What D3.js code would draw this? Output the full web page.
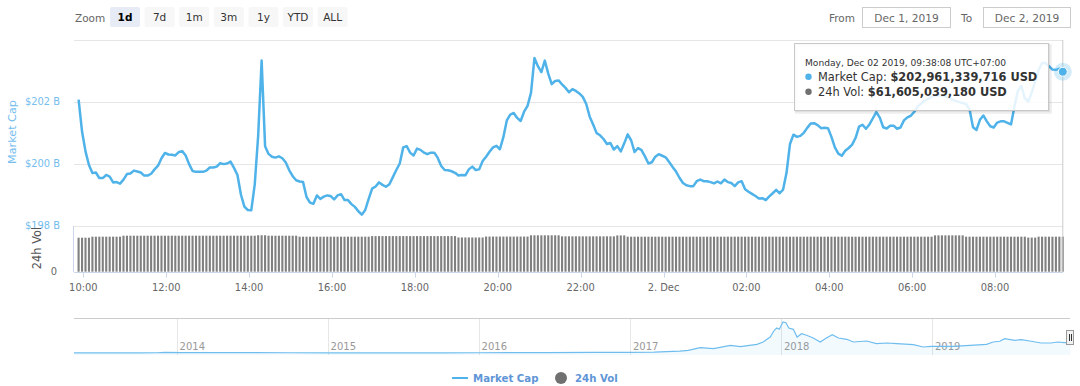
<!DOCTYPE html>
<html><head><meta charset="utf-8">
<script src="https://cdn.jsdelivr.net/npm/d3@7"></script>
<style>
html,body{margin:0;padding:0;background:#fff;}
svg{display:block;font-family:"DejaVu Sans",sans-serif;}
</style></head><body>
<svg id="chart" width="1080" height="386"></svg>
<script>
// ---------- DATA ----------
// Market cap (billions USD), one value every 5 minutes (UTC+07:00 wall time)
const capValues = [
202.06,201.03,200.39,199.95,199.69,199.71,199.53,199.53,199.63,199.58,
199.39,199.40,199.35,199.48,199.66,199.68,199.77,199.74,199.71,199.61,
199.61,199.67,199.81,199.93,200.17,200.34,200.29,200.28,200.26,200.37,
200.40,200.26,199.98,199.76,199.73,199.73,199.73,199.77,199.87,199.87,
199.90,200.01,199.98,200.00,200.06,199.86,199.63,199.00,198.61,198.50,
198.49,199.32,200.90,203.32,200.56,200.31,200.22,200.19,200.23,200.17,
200.03,199.78,199.59,199.46,199.42,199.40,198.92,198.74,198.70,198.97,
198.86,198.93,198.97,198.95,198.84,198.97,199.01,198.82,198.82,198.69,
198.60,198.46,198.35,198.50,198.86,199.19,199.26,199.39,199.31,199.25,
199.33,199.56,199.79,200.00,200.52,200.56,200.35,200.26,200.48,200.44,
200.35,200.30,200.35,200.35,200.18,199.92,199.79,199.78,199.75,199.70,
199.61,199.63,199.62,199.81,199.90,199.79,199.81,200.08,200.22,200.38,
200.52,200.57,200.46,200.85,201.39,201.58,201.63,201.47,201.37,201.67,
201.86,202.28,203.40,203.14,202.95,203.32,202.90,202.56,202.66,202.68,
202.55,202.44,202.30,202.40,202.34,202.26,202.15,201.92,201.51,201.26,
200.98,200.91,200.79,200.63,200.66,200.45,200.56,200.39,200.65,200.94,
200.75,200.37,200.50,200.43,200.23,200.00,200.04,200.22,200.30,200.25,
200.20,200.05,199.89,199.74,199.54,199.37,199.30,199.27,199.27,199.43,
199.48,199.43,199.43,199.40,199.36,199.42,199.36,199.48,199.40,199.37,
199.27,199.39,199.43,199.17,199.09,199.02,198.95,198.87,198.88,198.82,
198.94,199.04,199.15,199.04,199.16,199.70,200.63,200.93,200.86,200.89,
200.99,201.15,201.29,201.30,201.24,201.14,201.15,201.14,200.86,200.52,
200.32,200.25,200.41,200.50,200.61,200.83,201.19,201.25,201.12,201.26,
201.46,201.66,201.48,201.17,201.13,201.22,201.22,201.12,201.16,201.39,
201.49,201.54,201.67,201.84,201.94,202.02,202.08,202.15,202.19,202.19,
202.19,202.17,202.13,202.06,202.02,201.98,201.95,201.92,201.74,201.17,
201.08,201.41,201.55,201.36,201.20,201.16,201.32,201.36,201.36,201.31,
201.26,201.84,202.35,202.50,202.11,202.00,202.29,202.66,203.02,203.24,
203.24,203.14,203.03,203.02,203.06,202.96];

// 24h volume (billions USD), same timestamps
const volValues = [
59.8,59.8,59.8,59.8,61.6,61.6,61.6,61.6,61.6,61.6,
61.6,61.6,61.6,63.3,63.3,63.3,63.3,63.3,63.3,63.3,
63.3,63.3,63.3,63.3,63.3,63.3,63.3,63.3,63.3,63.3,
63.3,63.3,63.3,63.3,63.3,63.3,63.3,63.3,63.3,63.3,
63.3,63.3,63.3,63.3,63.3,63.3,63.3,63.3,63.3,63.3,
63.3,63.3,64.1,64.1,64.1,63.3,63.3,63.3,63.3,63.3,
63.3,63.3,63.3,63.3,61.6,61.6,61.6,61.6,61.6,61.6,
61.6,61.6,61.6,61.6,61.6,61.6,61.6,61.6,61.6,61.6,
61.6,61.6,61.6,61.6,61.6,62.6,62.6,62.6,62.6,62.6,
62.6,62.6,62.6,62.6,62.6,62.6,62.6,62.6,62.6,62.6,
62.6,62.6,62.6,62.6,62.6,62.6,62.6,62.6,62.6,62.6,
60.2,60.2,60.2,60.2,60.2,60.2,60.2,60.2,61.8,61.8,
61.8,61.8,61.8,61.8,61.8,61.8,61.8,61.8,61.8,61.8,
61.8,64.0,64.0,64.0,64.0,64.0,64.0,64.0,64.0,64.0,
62.2,62.2,62.2,62.2,62.2,62.2,62.2,62.2,62.2,62.2,
62.2,62.2,62.2,62.2,62.2,62.2,63.8,63.8,63.8,61.6,
61.6,61.6,61.6,61.6,61.6,61.6,61.6,61.6,61.6,61.6,
61.6,61.6,61.6,61.6,61.6,61.6,61.6,61.6,61.6,61.6,
61.6,61.6,61.6,61.6,61.6,61.6,61.6,61.6,61.6,61.6,
61.6,61.6,61.6,61.6,61.6,61.6,61.6,61.6,61.6,61.6,
61.6,61.6,61.6,61.6,61.6,61.6,61.6,61.6,61.6,61.6,
61.6,61.6,61.6,61.6,61.6,61.6,61.6,61.6,61.6,61.6,
61.6,61.6,61.6,61.6,61.6,61.6,61.6,61.6,61.6,61.6,
61.6,61.6,61.6,61.6,61.6,61.6,61.6,61.6,61.6,61.6,
61.6,61.6,61.6,61.6,61.6,61.6,61.6,61.6,63.9,63.9,
63.9,63.9,63.9,63.9,63.9,63.9,63.9,61.6,61.6,61.6,
61.6,61.6,61.6,61.6,61.6,61.6,61.6,61.6,61.6,61.6,
61.6,61.6,61.6,61.6,61.6,60.0,60.0,60.0,61.6,61.6,
61.6,61.6,61.6,61.6,61.6,61.61];

const startTime = Date.UTC(2019, 11, 1, 9, 53, 8); // first point, local wall time
const stepMinutes = 5;

const capTicks = [198, 200, 202];
const capGrid = [198, 200, 202, 204];
const zoomButtons = ["1d", "7d", "1m", "3m", "1y", "YTD", "ALL"];
const fromDate = "Dec 1, 2019";
const toDate = "Dec 2, 2019";

// Navigator: total market cap history (billions USD)
const navDates = ["2013-04-28","2013-07-01","2013-10-01","2013-11-15","2013-12-04","2014-01-15","2014-03-01","2014-06-01","2014-10-01","2015-01-15","2015-06-01","2015-10-01","2016-01-01","2016-06-15","2016-10-01","2017-01-01","2017-03-01","2017-05-01","2017-05-22","2017-06-20","2017-07-22","2017-09-01","2017-09-25","2017-11-04","2017-11-19","2017-12-06","2017-12-16","2017-12-22","2017-12-28","2018-01-06","2018-01-13","2018-01-20","2018-01-31","2018-02-09","2018-02-20","2018-03-04","2018-03-20","2018-04-06","2018-04-18","2018-05-05","2018-05-20","2018-06-09","2018-06-25","2018-07-27","2018-08-20","2018-09-14","2018-10-08","2018-11-17","2018-12-11","2018-12-31","2019-02-22","2019-04-03","2019-05-13","2019-05-29","2019-06-14","2019-06-26","2019-07-20","2019-08-05","2019-08-29","2019-09-22","2019-10-16","2019-11-01","2019-11-17","2019-12-02"];
const navValues = [1.5,1.2,1.6,6,15,11,9,8,6,4,3.5,4,7,12,14,18,24,50,70,139,113,202,165,228,288,419,595,655,621,812,794,655,621,419,506,464,393,288,375,479,393,359,288,314,244,262,244,217,157,176,176,202,228,288,307,375,333,348,307,262,262,288,270,275];
const navYears = [2014, 2015, 2016, 2017, 2018, 2019];

const tooltipHeader = "Monday, Dec 02 2019, 09:38:08 UTC+07:00";
const tooltipCap = "$202,961,339,716 USD";
const tooltipVol = "$61,605,039,180 USD";

// ---------- STYLE ----------
const BLUE = "#4fb3ea";
const LABEL_BLUE = "#74bdee";
const GRID = "#e6e6e6";
const AXIS = "#ccd6eb";

const svg = d3.select("#chart");
const times = capValues.map((d, i) => new Date(startTime + i * stepMinutes * 60000));

const x = d3.scaleUtc().domain([times[0], times[times.length - 1]]).range([78.6, 1062.8]);
const y = d3.scaleLinear().domain([198, 204]).range([225.5, 39.5]);
const yVol = d3.scaleLinear().domain([0, 78.6]).range([271.7, 227]);

// ---------- Range selector ----------
const topG = svg.append("g");
topG.append("text").attr("x", 75).attr("y", 21.5).attr("font-size", 10.5).attr("fill", "#666").text("Zoom");
const btn = topG.selectAll("g.btn").data(zoomButtons).join("g")
  .attr("transform", (d, i) => `translate(${110 + i * 34.6},7)`);
btn.append("rect").attr("width", 30).attr("height", 20).attr("rx", 2)
  .attr("fill", (d, i) => i === 0 ? "#e6ebf5" : "#f7f7f7");
btn.append("text").attr("x", 15).attr("y", 14.3).attr("text-anchor", "middle")
  .attr("font-size", 10.5).attr("font-weight", (d, i) => i === 0 ? "bold" : "normal")
  .attr("fill", (d, i) => i === 0 ? "#000" : "#333").text(d => d);

topG.append("text").attr("x", 829).attr("y", 21.5).attr("font-size", 10.5).attr("fill", "#666").text("From");
topG.append("rect").attr("x", 862.5).attr("y", 7.5).attr("width", 88).attr("height", 20).attr("fill", "#fff").attr("stroke", "#ccc");
topG.append("text").attr("x", 906.5).attr("y", 21.5).attr("text-anchor", "middle").attr("font-size", 10.6).attr("fill", "#666").text(fromDate);
topG.append("text").attr("x", 961).attr("y", 21.5).attr("font-size", 10.5).attr("fill", "#666").text("To");
topG.append("rect").attr("x", 983.5).attr("y", 7.5).attr("width", 87).attr("height", 20).attr("fill", "#fff").attr("stroke", "#ccc");
topG.append("text").attr("x", 1027).attr("y", 21.5).attr("text-anchor", "middle").attr("font-size", 10.6).attr("fill", "#666").text(toDate);

// ---------- Grid ----------
svg.append("g").selectAll("line").data(capGrid).join("line")
  .attr("x1", 74).attr("x2", 1063).attr("y1", d => Math.round(y(d)) + 0.5).attr("y2", d => Math.round(y(d)) + 0.5)
  .attr("stroke", GRID);

// Y labels
svg.append("g").selectAll("text").data(capTicks).join("text")
  .attr("x", 60).attr("y", d => y(d) + 3.7).attr("text-anchor", "end")
  .attr("font-size", 9.9).attr("fill", LABEL_BLUE).text(d => "$" + d + " B");
svg.append("text").attr("transform", "translate(15.5,132) rotate(-90)").attr("text-anchor", "middle")
  .attr("font-size", 11.2).attr("fill", LABEL_BLUE).text("Market Cap");
svg.append("text").attr("transform", "translate(41,248) rotate(-90)").attr("text-anchor", "middle")
  .attr("font-size", 11.4).attr("fill", "#555").text("24h Vol");
svg.append("text").attr("x", 57).attr("y", yVol(0) + 3.6).attr("text-anchor", "end")
  .attr("font-size", 9.9).attr("fill", "#666").text("0");

// Volume pane axis line
svg.append("line").attr("x1", 73.5).attr("x2", 73.5).attr("y1", 226).attr("y2", 272).attr("stroke", AXIS);

// Volume bars
svg.append("g").selectAll("rect").data(volValues).join("rect")
  .attr("x", (d, i) => x(times[i]) - 1.05).attr("width", 2.1)
  .attr("y", d => yVol(d)).attr("height", d => yVol(0) - yVol(d))
  .attr("fill", "#808080");

// X axis
const xAxisG = svg.append("g").attr("transform", "translate(0,272)");
xAxisG.append("line").attr("x1", 74).attr("x2", 1063).attr("y1", 0.5).attr("y2", 0.5).attr("stroke", AXIS);
const xt = x.ticks(d3.utcHour.every(2));
const fmt = d => d.getUTCHours() === 0 ? d3.utcFormat("%-d. %b")(d) : d3.utcFormat("%H:%M")(d);
xAxisG.selectAll("line.t").data(xt).join("line").attr("class", "t")
  .attr("x1", d => Math.round(x(d)) + 0.5).attr("x2", d => Math.round(x(d)) + 0.5)
  .attr("y1", 0.5).attr("y2", 5.5).attr("stroke", AXIS);
xAxisG.selectAll("text").data(xt).join("text")
  .attr("x", d => x(d)).attr("y", 18.8).attr("text-anchor", "middle")
  .attr("font-size", 9.9).attr("fill", "#666").text(fmt);

// Crosshair
const last = times.length - 1;
svg.append("line").attr("x1", x(times[last])).attr("x2", x(times[last])).attr("y1", 40).attr("y2", 272)
  .attr("stroke", "#cccccc");

// Line
const line = d3.line().x((d, i) => x(times[i])).y(d => y(d)).curve(d3.curveLinear);
svg.append("path").datum(capValues).attr("d", line).attr("fill", "none")
  .attr("stroke", BLUE).attr("stroke-width", 2.5).attr("stroke-linejoin", "round");

// Tooltip
const tt = svg.append("g");
tt.append("rect").attr("x", 796.5).attr("y", 45.5).attr("width", 254).attr("height", 67).attr("fill", "none")
  .attr("stroke", "#000").attr("stroke-opacity", 0.05).attr("stroke-width", 3);
tt.append("rect").attr("x", 795.5).attr("y", 44.5).attr("width", 254).attr("height", 67).attr("fill", "none")
  .attr("stroke", "#000").attr("stroke-opacity", 0.08).attr("stroke-width", 1.5);
tt.append("rect").attr("x", 794.5).attr("y", 43.5).attr("width", 254).attr("height", 67)
  .attr("fill", "rgba(255,255,255,0.85)").attr("stroke", "#c8c8c8");
tt.append("text").attr("x", 805).attr("y", 66).attr("font-size", 9.1).attr("fill", "#333").text(tooltipHeader);
tt.append("circle").attr("cx", 808.5).attr("cy", 76.8).attr("r", 3.2).attr("fill", BLUE);
const t1 = tt.append("text").attr("x", 818).attr("y", 80.8).attr("font-size", 11.4).attr("fill", "#333");
t1.append("tspan").text("Market Cap: ");
t1.append("tspan").attr("font-weight", "bold").text(tooltipCap);
tt.append("circle").attr("cx", 808.5).attr("cy", 91.8).attr("r", 3.2).attr("fill", "#707070");
const t2 = tt.append("text").attr("x", 818).attr("y", 95.8).attr("font-size", 11.4).attr("fill", "#333");
t2.append("tspan").text("24h Vol: ");
t2.append("tspan").attr("font-weight", "bold").text(tooltipVol);

// Hover marker
svg.append("circle").attr("cx", x(times[last])).attr("cy", y(capValues[last])).attr("r", 9)
  .attr("fill", BLUE).attr("fill-opacity", 0.25);
svg.append("circle").attr("cx", x(times[last])).attr("cy", y(capValues[last])).attr("r", 4.5)
  .attr("fill", BLUE).attr("stroke", "#fff").attr("stroke-width", 1);

// ---------- Navigator ----------
const nx = d3.scaleUtc().domain([new Date("2013-04-28"), new Date("2019-12-02")]).range([74, 1070.5]);
const ny = d3.scaleLinear().domain([0, 917]).range([353, 318]);
const navDatesParsed = navDates.map(s => new Date(s));
const nav = svg.append("g");
nav.selectAll("line.g").data(navYears).join("line").attr("class", "g")
  .attr("x1", d => Math.round(nx(new Date(Date.UTC(d, 0, 1)))) + 0.5)
  .attr("x2", d => Math.round(nx(new Date(Date.UTC(d, 0, 1)))) + 0.5)
  .attr("y1", 318).attr("y2", 355).attr("stroke", GRID);
nav.selectAll("text").data(navYears).join("text")
  .attr("x", d => nx(new Date(Date.UTC(d, 0, 1))) + 3).attr("y", 350)
  .attr("font-size", 10).attr("fill", "#999").text(d => d);
const area = d3.area().x((d, i) => nx(navDatesParsed[i])).y0(355).y1(d => ny(d));
nav.append("path").datum(navValues).attr("d", area).attr("fill", BLUE).attr("fill-opacity", 0.07);
const nline = d3.line().x((d, i) => nx(navDatesParsed[i])).y(d => ny(d));
nav.append("path").datum(navValues).attr("d", nline).attr("fill", "none").attr("stroke", "#6fbdee").attr("stroke-width", 1.2);
nav.append("line").attr("x1", 74).attr("x2", 1070).attr("y1", 318.5).attr("y2", 318.5).attr("stroke", "#cccccc");
// handle
nav.append("rect").attr("x", 1066.5).attr("y", 330.5).attr("width", 7).attr("height", 14).attr("fill", "#f2f2f2").attr("stroke", "#999");
nav.append("line").attr("x1", 1069.5).attr("x2", 1069.5).attr("y1", 334).attr("y2", 341).attr("stroke", "#333");
nav.append("line").attr("x1", 1071.5).attr("x2", 1071.5).attr("y1", 334).attr("y2", 341).attr("stroke", "#333");

// ---------- Legend ----------
const LEG = "#5f95d6";
const lg = svg.append("g");
lg.append("line").attr("x1", 452).attr("x2", 468).attr("y1", 378).attr("y2", 378).attr("stroke", BLUE).attr("stroke-width", 2);
lg.append("text").attr("x", 473).attr("y", 381.8).attr("font-size", 10.2).attr("font-weight", "bold").attr("fill", LEG).text("Market Cap");
lg.append("circle").attr("cx", 561).attr("cy", 378).attr("r", 6).attr("fill", "#707070");
lg.append("text").attr("x", 575).attr("y", 381.8).attr("font-size", 10.2).attr("font-weight", "bold").attr("fill", LEG).text("24h Vol");
</script>
</body></html>
